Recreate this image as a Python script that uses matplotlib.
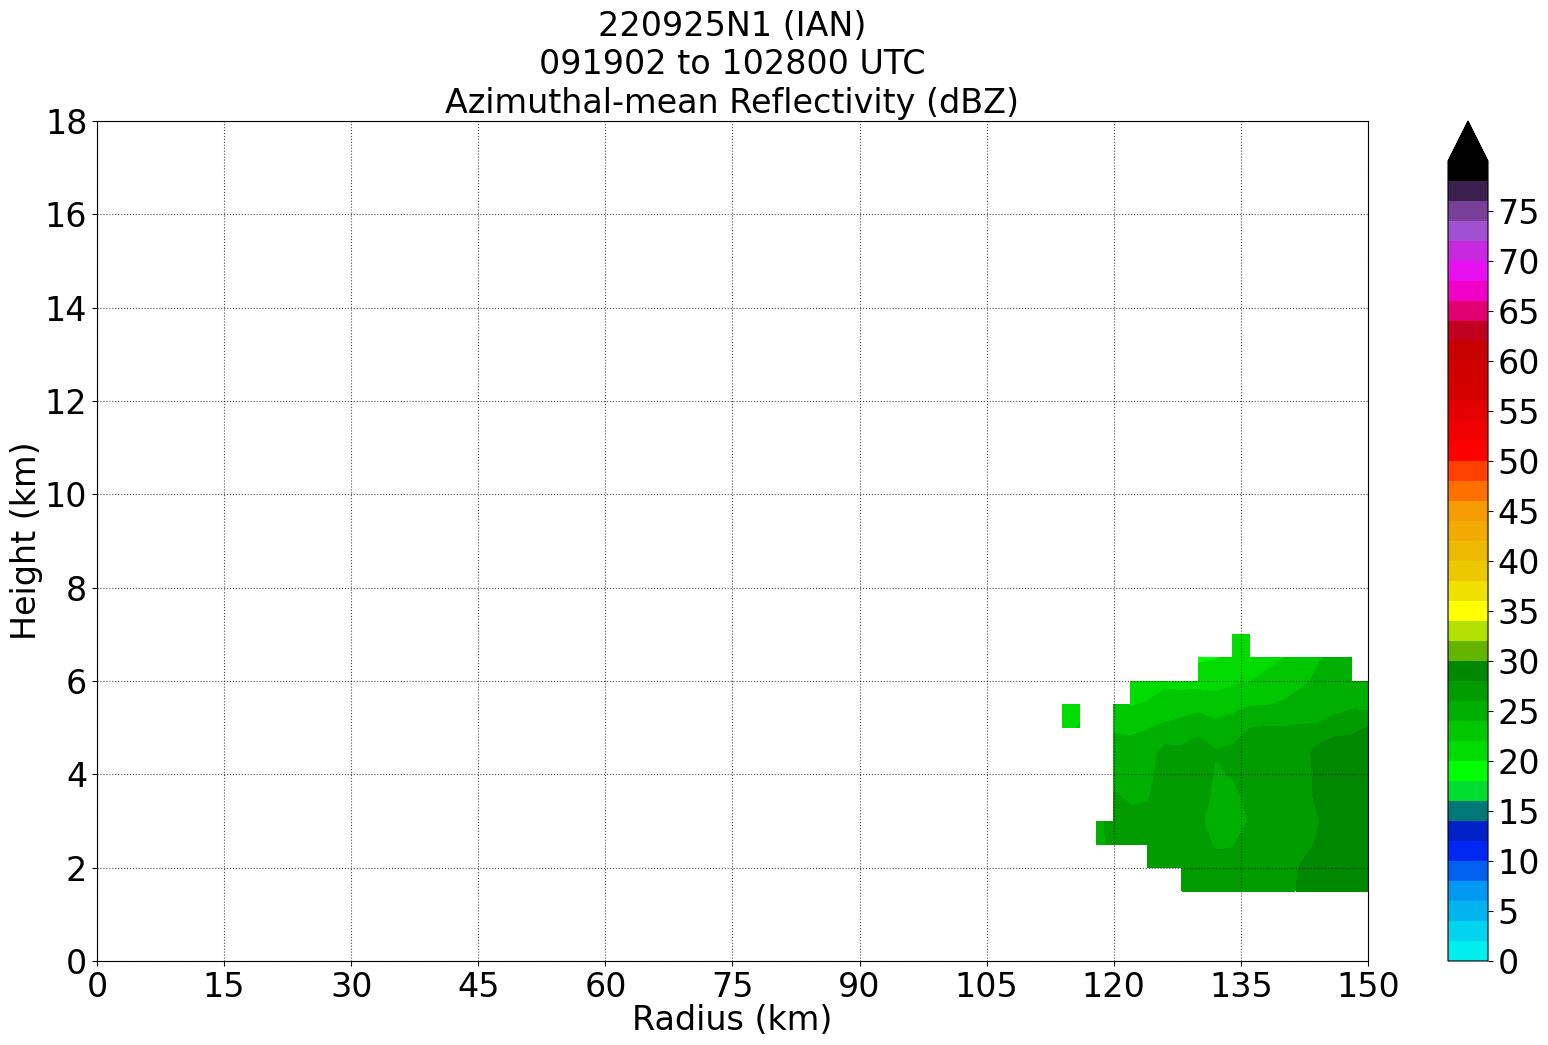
import numpy as np
import matplotlib
matplotlib.use("Agg")
import matplotlib.pyplot as plt
from matplotlib.colors import ListedColormap, BoundaryNorm

nan = np.nan

# azimuthal-mean reflectivity (dBZ), sampled every 2 km in radius / 0.5 km in height
radius_km = [114, 116, 118, 120, 122, 124, 126, 128, 130, 132, 134, 136, 138, 140, 142, 144, 146, 148, 150]
height_km = [1.5, 2.0, 2.5, 3.0, 3.5, 4.0, 4.5, 5.0, 5.5, 6.0, 6.5, 7.0]

z_h15 = [nan, nan, nan, nan, nan, nan, nan, 27.2, 27.1, 27.0, 26.9, 27.2, 27.3, 27.7, 28.1, 28.6, 29.0, 29.2, 29.4]
z_h20 = [nan, nan, nan, nan, nan, 27.0, 27.1, 27.1, 27.0, 26.6, 26.6, 27.0, 27.1, 27.6, 28.05, 28.5, 28.9, 29.1, 29.3]
z_h25 = [nan, nan, 25.5, 26.5, 26.6, 26.8, 27.0, 27.0, 26.8, 25.8, 25.9, 26.6, 27.0, 27.4, 27.6, 28.1, 28.7, 29.0, 29.2]
z_h30 = [nan, nan, 25.5, 26.6, 26.4, 26.5, 27.0, 26.9, 26.3, 25.3, 25.2, 26.1, 27.0, 27.3, 27.5, 27.9, 28.6, 29.0, 29.2]
z_h35 = [nan, nan, nan, 26.2, 25.8, 25.9, 26.9, 27.0, 27.0, 25.5, 25.6, 26.3, 27.0, 27.3, 27.4, 28.2, 28.8, 29.1, 29.3]
z_h40 = [nan, nan, nan, 25.5, 25.3, 25.5, 26.8, 27.0, 27.2, 25.8, 26.1, 26.8, 27.0, 27.2, 27.3, 28.3, 29.0, 29.2, 29.4]
z_h45 = [nan, nan, nan, 24.7, 24.9, 25.0, 26.6, 26.4, 27.0, 26.1, 26.3, 27.0, 26.9, 27.0, 27.0, 28.6, 29.2, 29.3, 29.5]
z_h50 = [21.0, 22.3, nan, 23.8, 23.5, 23.9, 24.3, 24.8, 25.4, 24.6, 25.2, 25.95, 26.1, 26.1, 26.2, 26.15, 27.2, 27.4, 28.1]
z_h55 = [20.5, 21.0, nan, 22.9, 21.8, 22.2, 22.9, 22.9, 23.2, 22.9, 23.2, 23.8, 23.9, 24.2, 24.7, 25.3, 25.0, 25.6, 25.2]
z_h60 = [nan, nan, nan, nan, 21.0, 20.8, 21.5, 21.4, 21.3, 21.2, 21.7, 21.95, 22.4, 23.0, 23.6, 24.3, 24.9, 25.2, 25.3]
z_h65 = [nan, nan, nan, nan, nan, nan, nan, nan, 19.6, 19.9, 20.3, 20.8, 21.5, 21.95, 22.5, 23.8, 24.4, 25.0, nan]
z_h70 = [nan, nan, nan, nan, nan, nan, nan, nan, nan, nan, 20.2, 20.5, nan, nan, nan, nan, nan, nan, nan]

levels = np.arange(0, 82, 2)
cbar_ticks = np.arange(0, 80, 5)
x_ticks = np.arange(0, 151, 15)
y_ticks = np.arange(0, 19, 2)

colors = [
    "#00EEEE", "#00D4EE", "#00B4F0", "#0098F0", "#0060F0", "#0028F0", "#0020C8", "#007878",
    "#00DC30", "#00FF00", "#00DC00", "#00C800", "#00B000", "#009C00", "#008800",
    "#64B400", "#B4E000", "#FFFF00", "#F0E000", "#ECC800", "#EDBA00", "#F0AA00", "#F59C00",
    "#FF7000", "#FF4000", "#FF0000", "#F00000", "#E40000", "#D40000", "#D00000", "#C80000",
    "#C0001E", "#E00070", "#F000C8", "#E810F0", "#C828E0", "#A050D0", "#784098", "#3C2050",
    "#000000",
]

# place the sampled block on the full radius-height grid
r_full = np.arange(0, 152, 2)
h_full = np.arange(0, 18.5, 0.5)
z_full = np.full((len(h_full), len(r_full)), np.nan)
rows = [z_h15, z_h20, z_h25, z_h30, z_h35, z_h40, z_h45, z_h50, z_h55, z_h60, z_h65, z_h70]
for h, row in zip(height_km, rows):
    i = int(round(h / 0.5))
    for r, v in zip(radius_km, row):
        z_full[i, int(r // 2)] = v
z_full = np.ma.masked_invalid(z_full)

cmap = ListedColormap(colors)
cmap.set_over("#000000")
norm = BoundaryNorm(levels, cmap.N)

fig = plt.figure(figsize=(15.48, 10.45), dpi=100)
ax = fig.add_axes([0.06266, 0.08038, 0.82106, 0.80383])
cax = fig.add_axes([0.93540, 0.08038, 0.02584, 0.80383])

cf = ax.contourf(r_full, h_full, z_full, levels=levels, cmap=cmap, norm=norm,
                 extend="max", corner_mask=False)

ax.set_xlim(0, 150)
ax.set_ylim(0, 18)
ax.set_xticks(x_ticks)
ax.set_yticks(y_ticks)
ax.tick_params(labelsize=24)
ax.grid(True, color="k", linestyle=":", linewidth=0.8, alpha=0.7)
ax.set_xlabel("Radius (km)", fontsize=24, labelpad=0)
ax.set_ylabel("Height (km)", fontsize=24, labelpad=1)
ax.set_title("220925N1 (IAN)\n091902 to 102800 UTC\nAzimuthal-mean Reflectivity (dBZ)", fontsize=24)

cb = fig.colorbar(cf, cax=cax, ticks=cbar_ticks)
cb.ax.minorticks_off()
cb.ax.tick_params(labelsize=24)

fig.savefig("out.png", dpi=100)
